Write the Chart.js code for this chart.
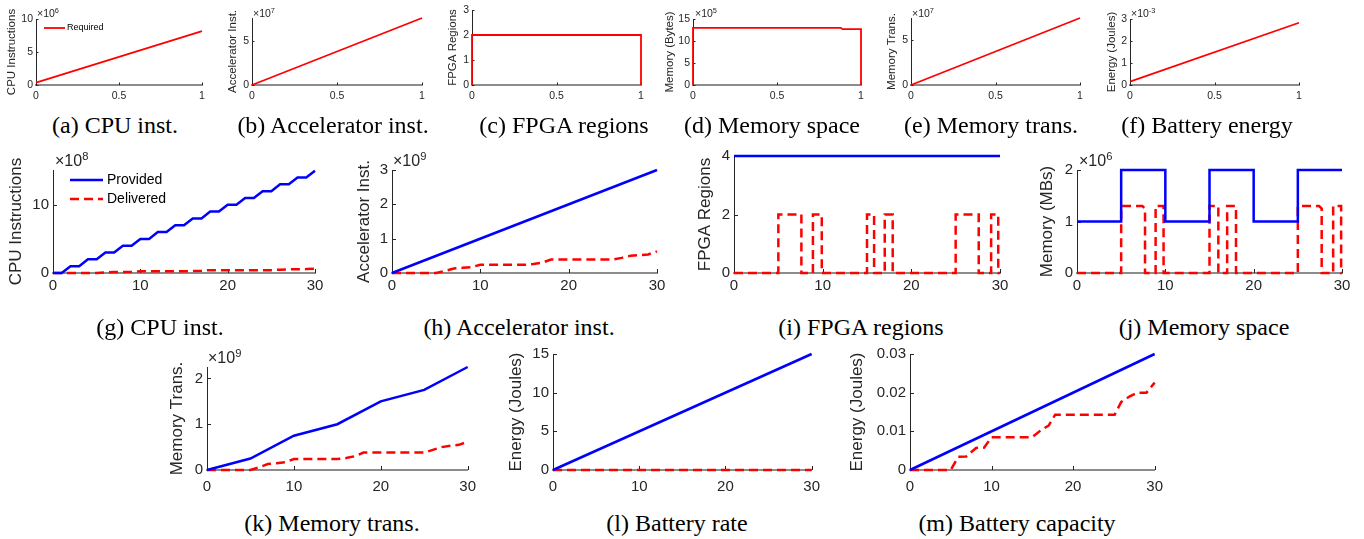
<!DOCTYPE html>
<html>
<head>
<meta charset="utf-8">
<script src="https://cdn.jsdelivr.net/npm/chart.js@4.4.1/dist/chart.umd.min.js"></script>
<style>
  body { margin: 0; background: #fff; width: 1364px; height: 539px; overflow: hidden; position: relative; }
  canvas, .cap, .exp { position: absolute; }
  .cap { font-family: "Liberation Serif", "Times New Roman", serif; font-size: 24px; color: #000;
         transform: translate(-50%, -50%); white-space: nowrap; line-height: 1; }
  .exp { font-family: "Liberation Sans", Arial, sans-serif; color: #262626; white-space: nowrap;
         transform: translateY(-50%); line-height: 1; }
  .exp sup { font-size: 70%; vertical-align: 0; position: relative; top: -0.55em; }
</style>
</head>
<body>
<script>
// ---- data: single request (a)-(f), x is normalised time ----
const reqX = [0, 1];
const reqCpu = [0.35, 8.15];            // x10^6
const reqAcc = [0, 7.7];                // x10^7
const reqFpgaX = [0, 0, 1, 1];
const reqFpga = [0, 2, 2, 0];
const reqMemX = [0, 0, 0.88, 0.89, 1, 1];
const reqMem = [0, 13, 13, 12.7, 12.7, 0];   // x10^5
const reqMemTr = [0, 7.5];              // x10^7
const reqEnergy = [0.15, 2.83];         // x10^-3

// ---- data: provided vs delivered (g)-(m), x is time ----
const cpuProvX = [0, 1, 2, 3, 4, 5, 6, 7, 8, 9, 10, 11, 12, 13, 14, 15, 16, 17, 18, 19, 20, 21, 22, 23, 24, 25, 26, 27, 28, 29, 30];
const cpuProv = [0, 0, 1, 1, 2, 2, 3, 3, 4, 4, 5, 5, 6, 6, 7, 7, 8, 8, 9, 9, 10, 10, 11, 11, 12, 12, 13, 13, 14, 14, 15]; // x10^8
const delX = [0, 5, 6, 7, 8, 9, 10, 15, 16, 17, 18, 25, 26, 27, 28, 29, 30];
const cpuDel = [0, 0, 0.07, 0.13, 0.16, 0.18, 0.25, 0.25, 0.28, 0.33, 0.42, 0.42, 0.48, 0.53, 0.55, 0.57, 0.65];

const lineX = [0, 30];
const accProv = [0, 3];                 // x10^9
const accDel = [0, 0, 0.06, 0.13, 0.15, 0.17, 0.24, 0.24, 0.26, 0.3, 0.39, 0.39, 0.44, 0.5, 0.52, 0.54, 0.63];

const fpgaProv = [4, 4];
const fpgaDelX = [0, 5, 5, 7.6, 7.6, 8.9, 8.9, 9.9, 9.9, 15, 15, 15.8, 15.8, 17, 17, 17.9, 17.9, 25, 25, 27.6, 27.6, 29, 29, 29.8, 29.8, 30];
const fpgaDel = [0, 0, 2, 2, 0, 0, 2, 2, 0, 0, 2, 2, 0, 0, 2, 2, 0, 0, 2, 2, 0, 0, 2, 2, 0, 0];

const memProvX = [0, 5, 5, 10, 10, 15, 15, 20, 20, 25, 25, 30];
const memProv = [1, 1, 2, 2, 1, 1, 2, 2, 1, 1, 2, 2];   // x10^6
const memDelX = [0, 5, 5, 7.4, 7.7, 7.7, 8.9, 8.9, 9.8, 9.8, 15, 15, 16, 16, 17, 17, 18, 18, 25, 25, 27.4, 27.7, 27.7, 29, 29, 29.9, 29.9, 30];
const memDel = [0, 0, 1.3, 1.3, 1.25, 0, 0, 1.3, 1.3, 0, 0, 1.3, 1.3, 0, 0, 1.3, 1.3, 0, 0, 1.3, 1.3, 1.25, 0, 0, 1.3, 1.3, 0, 0];

const memTrProvX = [0, 5, 10, 15, 20, 25, 30];
const memTrProv = [0, 0.25, 0.75, 1, 1.5, 1.75, 2.25]; // x10^9
const memTrDel = [0, 0, 0.06, 0.13, 0.15, 0.17, 0.24, 0.24, 0.26, 0.3, 0.38, 0.38, 0.44, 0.5, 0.53, 0.55, 0.62];

const battRateProv = [0, 15];
const battRateDel = [0, 0];

const battCapProv = [0, 0.03];
const battCapDelX = [0, 5, 5.9, 6.9, 8.1, 9.1, 10, 15, 16, 17, 17.8, 25.1, 25.9, 26.9, 27.9, 29, 30];
const battCapDel = [0, 0, 0.0034, 0.0035, 0.0057, 0.0058, 0.0085, 0.0085, 0.0102, 0.0115, 0.0143, 0.0143, 0.0176, 0.019, 0.02, 0.02, 0.0226];

// ---- tick labels ----
const xTicksReq = [0, 0.5, 1];
const xTicksTime = [0, 10, 20, 30];

const SANS = '"Liberation Sans", Arial, Helvetica, sans-serif';
const BLUE = '#0000ff';
const RED = '#ff0000';

// row styles
const ROWS = {
  top: { tick: 10.5, title: 11.5, lw: 1.8, tickLen: 2.5, xh: 24, yPad: 3, xPad: 5, dash: [] },
  mid: { tick: 15, title: 17, lw: 2.5, tickLen: 4, xh: 32, yPad: 4, xPad: 4, dash: [9, 5] },
  bot: { tick: 15, title: 17, lw: 2.5, tickLen: 4, xh: 34, yPad: 4, xPad: 8, dash: [9, 5] }
};

// small inward tick marks, MATLAB style
const innerTicks = {
  id: 'innerTicks',
  beforeDatasetsDraw(chart, args, o) {
    const { ctx, chartArea: a, scales: { x, y } } = chart;
    ctx.save();
    ctx.strokeStyle = '#262626';
    ctx.lineWidth = 1;
    x.ticks.forEach(t => {
      const px = Math.round(x.getPixelForValue(t.value)) + 0.5;
      ctx.beginPath(); ctx.moveTo(px, a.bottom); ctx.lineTo(px, a.bottom - o.len); ctx.stroke();
    });
    y.ticks.forEach(t => {
      const py = Math.round(y.getPixelForValue(t.value)) + 0.5;
      ctx.beginPath(); ctx.moveTo(a.left, py); ctx.lineTo(a.left + o.len, py); ctx.stroke();
    });
    ctx.restore();
  }
};

// legend drawn inside the axes
const inLegend = {
  id: 'inLegend',
  afterDatasetsDraw(chart, args, o) {
    if (o.x === undefined) return;
    const { ctx, chartArea: a } = chart;
    ctx.save();
    ctx.font = o.size + 'px ' + SANS;
    ctx.textBaseline = 'middle';
    chart.data.datasets.forEach((ds, i) => {
      const yy = a.top + o.y + i * o.gap;
      ctx.strokeStyle = ds.borderColor;
      ctx.lineWidth = ds.borderWidth;
      ctx.setLineDash(ds.borderDash || []);
      ctx.beginPath(); ctx.moveTo(a.left + o.x, yy); ctx.lineTo(a.left + o.x + o.len, yy); ctx.stroke();
      ctx.setLineDash([]);
      ctx.fillStyle = '#000';
      ctx.fillText(ds.label, a.left + o.x + o.len + o.tg, yy);
    });
    ctx.restore();
  }
};

const fmt = v => String(Math.round(v * 1e6) / 1e6);

function addText(cls, html, x, y, size) {
  const d = document.createElement('div');
  d.className = cls;
  d.innerHTML = html;
  d.style.left = x + 'px';
  d.style.top = y + 'px';
  if (size) d.style.fontSize = size + 'px';
  document.body.appendChild(d);
}

// box: plot area in page pixels, titleX: centre of the y-axis title
function panel(box, rowName, yTitle, yTicks, yMax, xTicks, xMax, series, legend) {
  const r = ROWS[rowName];
  const lh = r.title * 1.2;
  const left = Math.round(box.titleX - lh / 2 - 1);
  const top = Math.round(box.t) - 12;
  const yw = Math.round(box.l) - left;
  const pt = Math.round(box.t) - top;
  const pr = 14;
  const w = Math.round(box.r) - left + pr;
  const h = Math.round(box.b) - top + r.xh;

  const cv = document.createElement('canvas');
  cv.width = w; cv.height = h;
  cv.style.left = left + 'px';
  cv.style.top = top + 'px';
  document.body.appendChild(cv);

  const datasets = series.map(s => ({
    label: s.label || '',
    data: s.x.map((v, i) => ({ x: v, y: s.y[i] })),
    borderColor: s.color,
    borderWidth: r.lw,
    borderDash: s.dashed ? r.dash : [],
    pointRadius: 0,
    tension: 0,
    fill: false,
    clip: 4
  }));

  new Chart(cv, {
    type: 'line',
    data: { datasets },
    options: {
      responsive: false,
      animation: false,
      devicePixelRatio: 1,
      layout: { padding: { left: 0, top: pt, right: pr, bottom: 0 } },
      plugins: {
        legend: { display: false },
        tooltip: { enabled: false },
        innerTicks: { len: r.tickLen },
        inLegend: legend || {}
      },
      scales: {
        x: {
          type: 'linear', min: 0, max: xMax,
          afterBuildTicks: s => { s.ticks = xTicks.map(v => ({ value: v })); },
          afterFit: s => { s.height = r.xh; },
          grid: { display: false, drawTicks: false },
          border: { color: '#8c8c8c', width: 2 },
          ticks: { font: { family: SANS, size: r.tick }, color: '#262626', padding: r.xPad,
                   maxRotation: 0, autoSkip: false, callback: fmt }
        },
        y: {
          type: 'linear', min: 0, max: yMax,
          afterBuildTicks: s => { s.ticks = yTicks.map(v => ({ value: v })); },
          afterFit: s => { s.width = yw; },
          grid: { display: false, drawTicks: false },
          border: { color: '#262626', width: 1 },
          ticks: { font: { family: SANS, size: r.tick }, color: '#262626', padding: r.yPad,
                   autoSkip: false, callback: fmt },
          title: { display: true, text: yTitle, color: '#262626',
                   font: { family: SANS, size: r.title }, padding: { top: 1, bottom: 0 } }
        }
      }
    },
    plugins: [innerTicks, inLegend]
  });
}

// ---- top row: required resources of one request ----
panel({ l: 36, t: 19, r: 202, b: 85, titleX: 12 }, 'top', 'CPU Instructions', [0, 5, 10], 10, xTicksReq, 1,
  [{ x: reqX, y: reqCpu, color: RED, label: 'Required' }],
  { x: 8, y: 9, len: 21, gap: 0, tg: 2, size: 9 });
panel({ l: 252, t: 18, r: 422, b: 85, titleX: 233 }, 'top', 'Accelerator Inst.', [0, 5], 7.7, xTicksReq, 1,
  [{ x: reqX, y: reqAcc, color: RED }]);
panel({ l: 472, t: 10, r: 641, b: 85, titleX: 453 }, 'top', 'FPGA Regions', [0, 1, 2, 3], 3, xTicksReq, 1,
  [{ x: reqFpgaX, y: reqFpga, color: RED }]);
panel({ l: 693, t: 19, r: 861, b: 85, titleX: 670 }, 'top', 'Memory (Bytes)', [0, 5, 10, 15], 15, xTicksReq, 1,
  [{ x: reqMemX, y: reqMem, color: RED }]);
panel({ l: 911, t: 18, r: 1080, b: 85, titleX: 892 }, 'top', 'Memory Trans.', [0, 5], 7.5, xTicksReq, 1,
  [{ x: reqX, y: reqMemTr, color: RED }]);
panel({ l: 1130, t: 19, r: 1299, b: 85, titleX: 1112 }, 'top', 'Energy (Joules)', [0, 1, 2, 3], 3, xTicksReq, 1,
  [{ x: reqX, y: reqEnergy, color: RED }]);

// ---- middle row ----
panel({ l: 53, t: 169, r: 315, b: 273, titleX: 16 }, 'mid', 'CPU Instructions', [0, 10], 15.1, xTicksTime, 30,
  [{ x: cpuProvX, y: cpuProv, color: BLUE, label: 'Provided' },
   { x: delX, y: cpuDel, color: RED, dashed: true, label: 'Delivered' }],
  { x: 17, y: 10, len: 33, gap: 19, tg: 4, size: 14 });
panel({ l: 392, t: 169, r: 657, b: 273, titleX: 364 }, 'mid', 'Accelerator Inst.', [0, 1, 2, 3], 3, xTicksTime, 30,
  [{ x: lineX, y: accProv, color: BLUE, label: 'Provided' },
   { x: delX, y: accDel, color: RED, dashed: true, label: 'Delivered' }]);
panel({ l: 734, t: 155, r: 1000, b: 273, titleX: 705 }, 'mid', 'FPGA Regions', [0, 2, 4], 4, xTicksTime, 30,
  [{ x: lineX, y: fpgaProv, color: BLUE, label: 'Provided' },
   { x: fpgaDelX, y: fpgaDel, color: RED, dashed: true, label: 'Delivered' }]);
panel({ l: 1077, t: 169, r: 1342, b: 273, titleX: 1047 }, 'mid', 'Memory (MBs)', [0, 1, 2], 2, xTicksTime, 30,
  [{ x: memProvX, y: memProv, color: BLUE, label: 'Provided' },
   { x: memDelX, y: memDel, color: RED, dashed: true, label: 'Delivered' }]);

// ---- bottom row ----
panel({ l: 207, t: 366, r: 470, b: 470, titleX: 177 }, 'bot', 'Memory Trans.', [0, 1, 2], 2.25, xTicksTime, 30,
  [{ x: memTrProvX, y: memTrProv, color: BLUE, label: 'Provided' },
   { x: delX, y: memTrDel, color: RED, dashed: true, label: 'Delivered' }]);
panel({ l: 553, t: 353, r: 814, b: 470, titleX: 516 }, 'bot', 'Energy (Joules)', [0, 5, 10, 15], 15, xTicksTime, 30,
  [{ x: lineX, y: battRateProv, color: BLUE, label: 'Provided' },
   { x: lineX, y: battRateDel, color: RED, dashed: true, label: 'Delivered' }]);
panel({ l: 910, t: 353, r: 1157, b: 470, titleX: 857 }, 'bot', 'Energy (Joules)', [0, 0.01, 0.02, 0.03], 0.03, xTicksTime, 30,
  [{ x: lineX, y: battCapProv, color: BLUE, label: 'Provided' },
   { x: battCapDelX, y: battCapDel, color: RED, dashed: true, label: 'Delivered' }]);

// ---- exponent labels ----
addText('exp', '&times;10<sup>6</sup>', 37, 13, 10.5);
addText('exp', '&times;10<sup>7</sup>', 253, 13, 10.5);
addText('exp', '&times;10<sup>5</sup>', 695, 13, 10.5);
addText('exp', '&times;10<sup>7</sup>', 912, 13, 10.5);
addText('exp', '&times;10<sup>-3</sup>', 1131, 13, 10.5);
addText('exp', '&times;10<sup>8</sup>', 55, 161, 16);
addText('exp', '&times;10<sup>9</sup>', 393, 161, 16);
addText('exp', '&times;10<sup>6</sup>', 1079, 161, 16);
addText('exp', '&times;10<sup>9</sup>', 208, 358, 16);

// ---- sub-captions ----
addText('cap', '(a) CPU inst.', 115, 125);
addText('cap', '(b) Accelerator inst.', 333, 125);
addText('cap', '(c) FPGA regions', 564, 125);
addText('cap', '(d) Memory space', 772, 125);
addText('cap', '(e) Memory trans.', 991, 125);
addText('cap', '(f) Battery energy', 1207, 125);
addText('cap', '(g) CPU inst.', 160, 327);
addText('cap', '(h) Accelerator inst.', 519, 327);
addText('cap', '(i) FPGA regions', 861, 327);
addText('cap', '(j) Memory space', 1204, 327);
addText('cap', '(k) Memory trans.', 332, 523);
addText('cap', '(l) Battery rate', 677, 523);
addText('cap', '(m) Battery capacity', 1017, 523);
</script>
</body>
</html>
